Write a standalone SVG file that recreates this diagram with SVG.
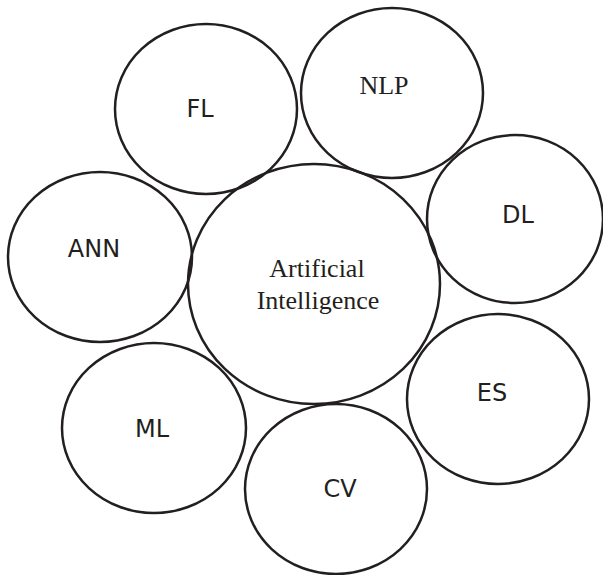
<svg xmlns="http://www.w3.org/2000/svg" width="603" height="575" viewBox="0 0 603 575">
<style>
ellipse{fill:none;stroke:#231f20;stroke-width:2.5}
.s{font-family:"DejaVu Sans",Verdana,sans-serif;font-size:24px;fill:#231f20;text-anchor:middle}
.t{font-family:"Liberation Serif","Times New Roman",serif;font-size:26px;fill:#231f20;text-anchor:middle}
</style>
<rect width="603" height="575" fill="#fff"/>
<g id="connectors"></g>
<g id="ai"><ellipse cx="314" cy="284" rx="126" ry="120"/><text class="t" x="317" y="277">Artificial</text><text class="t" x="318" y="309">Intelligence</text></g>
<g id="fl"><ellipse cx="206" cy="109" rx="91" ry="85"/><text class="s" x="200" y="117">FL</text></g>
<g id="nlp"><ellipse cx="392" cy="93" rx="91" ry="85"/><text class="t" x="384" y="94">NLP</text></g>
<g id="dl"><ellipse cx="515" cy="219" rx="88" ry="84"/><text class="s" x="518" y="223">DL</text></g>
<g id="ann"><ellipse cx="100" cy="257" rx="92" ry="85"/><text class="s" x="94" y="257">ANN</text></g>
<g id="es"><ellipse cx="498" cy="399" rx="91" ry="85"/><text class="s" x="492" y="401">ES</text></g>
<g id="ml"><ellipse cx="154" cy="428" rx="92" ry="85"/><text class="s" x="152" y="437">ML</text></g>
<g id="cv"><ellipse cx="336" cy="489" rx="91" ry="85"/><text class="s" x="340" y="497">CV</text></g>
</svg>
